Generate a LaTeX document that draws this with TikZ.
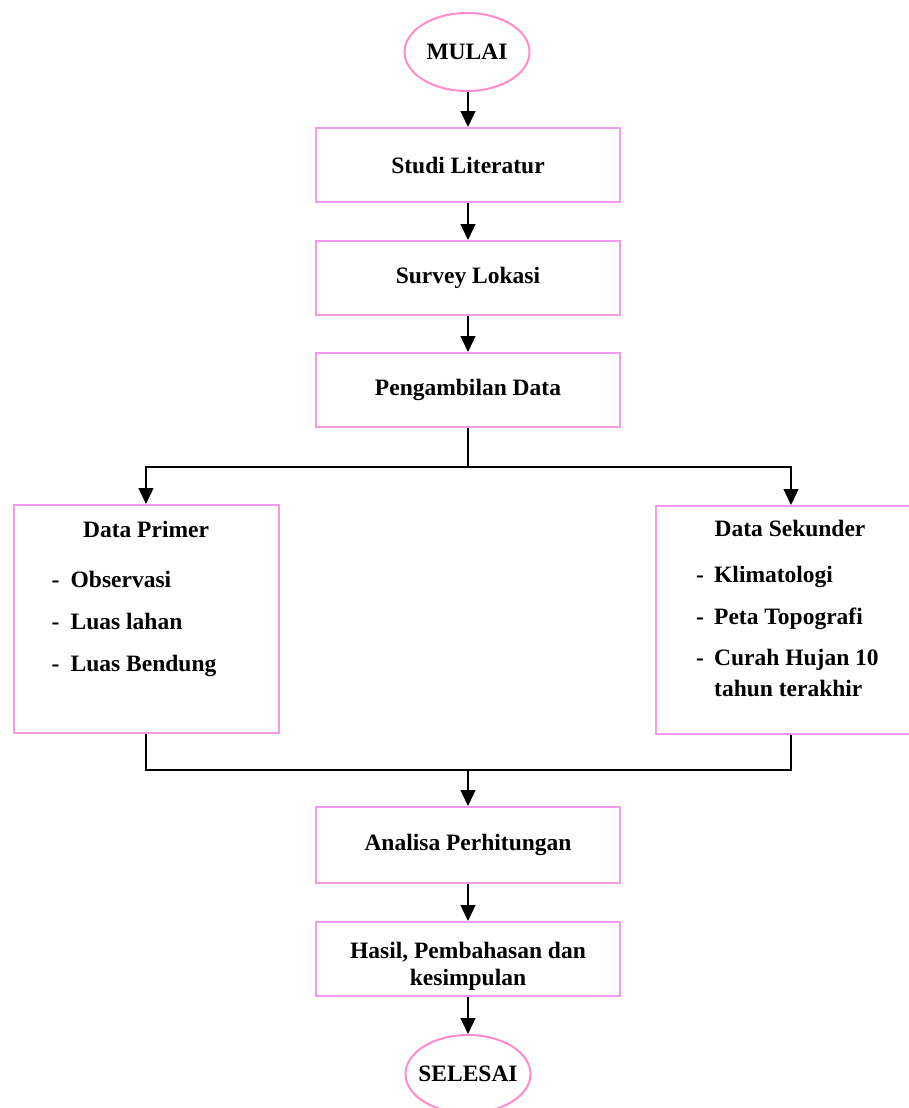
\documentclass[tikz,border=0pt]{standalone}
\usepackage{fontspec}
\setmainfont{Liberation Serif}
\usetikzlibrary{positioning, arrows.meta, shapes.geometric, calc}
\definecolor{boxpink}{HTML}{F39AEB}
\definecolor{ovalpink}{HTML}{FF8CC8}
\newcommand{\flowfont}{\bfseries\fontsize{23.5}{27}\selectfont}
\newcommand{\itemdash}{\makebox[19pt][l]{-}}
\newcommand{\ovaltext}[1]{\makebox[0pt]{#1}}
\tikzset{
  terminal/.style = {ellipse, draw=ovalpink, line width=2pt,
                     minimum width=125pt, minimum height=78pt,
                     inner sep=0pt, font=\flowfont},
  procbox/.style  = {rectangle, draw=boxpink, line width=2pt,
                     minimum width=304pt, minimum height=74pt,
                     inner sep=0pt, align=center, font=\flowfont},
  databox/.style  = {rectangle, draw=boxpink, line width=2pt,
                     minimum height=228pt, inner sep=0pt},
  txt/.style      = {inner sep=0pt, font=\flowfont},
  arr/.style      = {-{Triangle[length=16pt,width=15pt]}, line width=1.3pt},
  ln/.style       = {line width=1.3pt},
}

\begin{document}
\begin{tikzpicture}[x=1pt, y=1pt, node distance=36pt]
  \useasboundingbox (0,0) rectangle (908,-1108);

  % main column
  \node[terminal] (mulai) at (467,-52) {\ovaltext{MULAI}};
  \node[procbox, below=35pt of mulai, xshift=1pt] (studi) {Studi Literatur};
  \node[procbox, below=37pt of studi] (survey) {Survey Lokasi};
  \node[procbox, below=36pt of survey] (ambil) {Pengambilan Data};

  \coordinate[below=39pt of ambil] (split);
  \coordinate (lsplit) at ($(split)+(-322,0)$);
  \coordinate (rsplit) at ($(split)+(323,0)$);

  % data boxes
  \node[databox, minimum width=265pt, below=37pt of lsplit] (primer) {};
  \node[databox, minimum width=270pt, below=38pt of rsplit] (sekunder) {};

  \node[txt, anchor=base] (primerhd) at ($(primer.north)+(0,-33)$) {Data Primer};
  \node[txt, anchor=base west] (p1) at ($(primer.north west)+(39,-83)$) {\itemdash Observasi};
  \node[txt, anchor=base west] (p2) at ($(primer.north west)+(39,-125)$) {\itemdash Luas lahan};
  \node[txt, anchor=base west] (p3) at ($(primer.north west)+(39,-167)$) {\itemdash Luas Bendung};

  \node[txt, anchor=base] (sekunderhd) at ($(sekunder.north)+(-1,-31)$) {Data Sekunder};
  \node[txt, anchor=base west] (s1) at ($(sekunder.north west)+(41,-77)$) {\makebox[18pt][l]{-}Klimatologi};
  \node[txt, anchor=base west] (s2) at ($(sekunder.north west)+(41,-119)$) {\makebox[18pt][l]{-}Peta Topografi};
  \node[txt, anchor=base west] (s3) at ($(sekunder.north west)+(41,-160)$) {\makebox[18pt][l]{-}Curah Hujan 10};
  \node[txt, anchor=base west] (s3b) at ($(sekunder.north west)+(59,-191)$) {tahun terakhir};

  \coordinate (join) at ($(split)+(0,-303)$);
  \node[procbox, below=36pt of join, minimum height=76pt] (analisa) {Analisa Perhitungan};
  \node[procbox, below=37pt of analisa] (hasil) {\rule{0pt}{30pt}Hasil, Pembahasan dan\\kesimpulan};
  \node[terminal, below=37pt of hasil] (selesai) {\ovaltext{SELESAI}};

  % connectors
  \draw[arr] (mulai.south -| studi.north) -- (studi);
  \draw[arr] (studi) -- (survey);
  \draw[arr] (survey) -- (ambil);
  \draw[ln] (ambil.south) -- (split);
  \draw[arr] (split) -| (primer.north);
  \draw[arr] (split) -| (sekunder.north);
  \draw[ln] (primer.south) |- (join) -| (sekunder.south);
  \draw[arr] (join) -- (analisa);
  \draw[arr] (analisa) -- (hasil);
  \draw[arr] (hasil) -- (hasil.south |- selesai.north);
\end{tikzpicture}
\end{document}
